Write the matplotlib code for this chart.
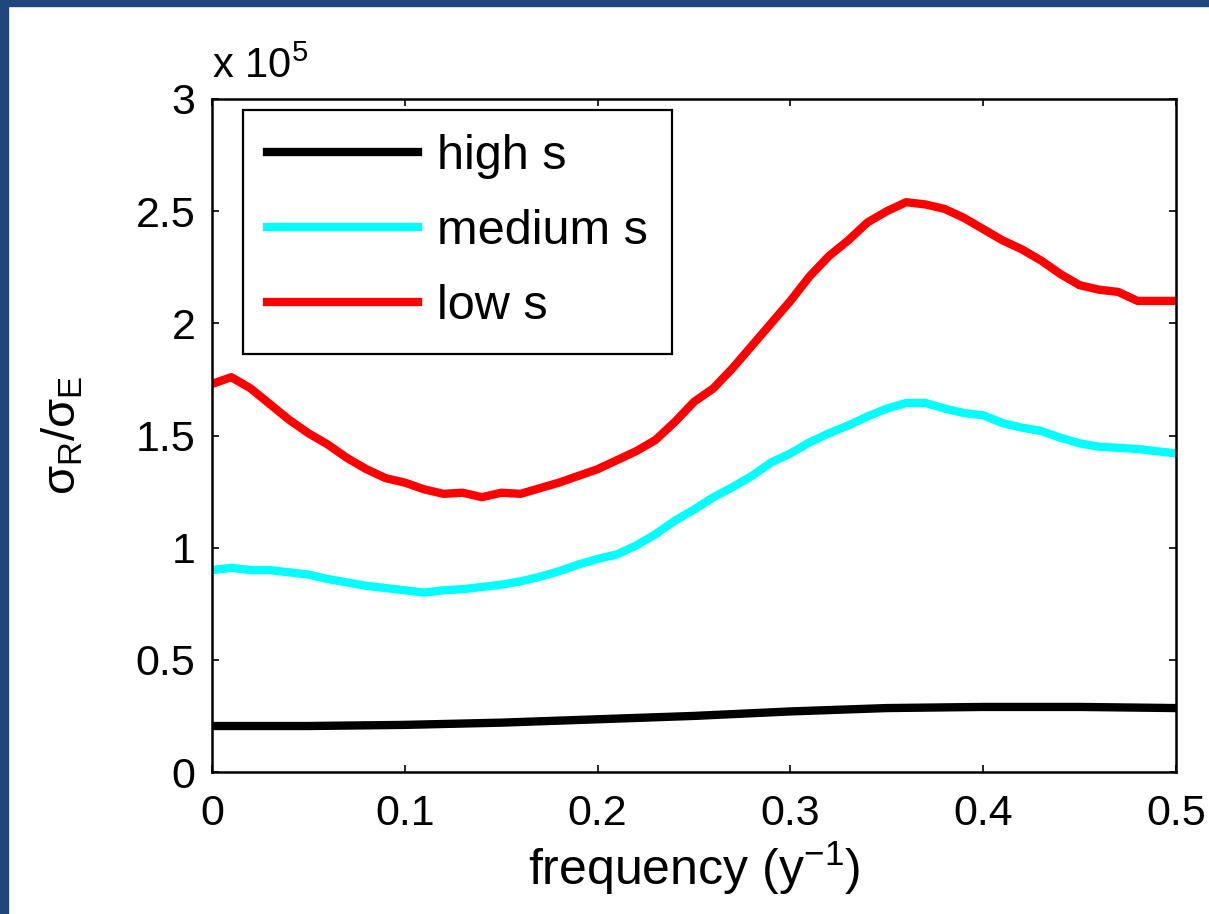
import numpy as np
import matplotlib
matplotlib.use("Agg")
from matplotlib import pyplot as plt
from matplotlib.patches import Rectangle

# frequency grid (1/y) and read-off values (x 10^5)
freq = [0.00, 0.01, 0.02, 0.03, 0.04, 0.05, 0.06, 0.07, 0.08, 0.09,
        0.10, 0.11, 0.12, 0.13, 0.14, 0.15, 0.16, 0.17, 0.18, 0.19,
        0.20, 0.21, 0.22, 0.23, 0.24, 0.25, 0.26, 0.27, 0.28, 0.29,
        0.30, 0.31, 0.32, 0.33, 0.34, 0.35, 0.36, 0.37, 0.38, 0.39,
        0.40, 0.41, 0.42, 0.43, 0.44, 0.45, 0.46, 0.47, 0.48, 0.49, 0.50]
low_s = [1.73, 1.76, 1.71, 1.64, 1.57, 1.51, 1.46, 1.40, 1.35, 1.31,
         1.29, 1.26, 1.24, 1.245, 1.225, 1.245, 1.24, 1.265, 1.29, 1.32,
         1.35, 1.39, 1.43, 1.48, 1.56, 1.65, 1.71, 1.80, 1.90, 2.00,
         2.10, 2.21, 2.30, 2.37, 2.45, 2.50, 2.54, 2.53, 2.51, 2.47,
         2.42, 2.37, 2.33, 2.28, 2.22, 2.17, 2.15, 2.14, 2.10, 2.10, 2.10]
medium_s = [0.90, 0.91, 0.90, 0.90, 0.89, 0.88, 0.86, 0.845, 0.83, 0.82,
            0.81, 0.80, 0.81, 0.815, 0.825, 0.835, 0.85, 0.87, 0.895, 0.925,
            0.95, 0.97, 1.01, 1.06, 1.12, 1.17, 1.225, 1.27, 1.32, 1.38,
            1.42, 1.47, 1.51, 1.545, 1.585, 1.62, 1.645, 1.645, 1.62, 1.60,
            1.59, 1.555, 1.535, 1.52, 1.49, 1.465, 1.45, 1.445, 1.44, 1.43, 1.42]
freq_high = [0.00, 0.05, 0.10, 0.15, 0.20, 0.25, 0.30, 0.35, 0.40, 0.45, 0.50]
high_s = [0.205, 0.205, 0.21, 0.22, 0.235, 0.25, 0.27, 0.285, 0.29, 0.29, 0.285]

xticks = [0, 0.1, 0.2, 0.3, 0.4, 0.5]
xticklabels = ["0", "0.1", "0.2", "0.3", "0.4", "0.5"]
yticks = [0, 0.5, 1, 1.5, 2, 2.5, 3]
yticklabels = ["0", "0.5", "1", "1.5", "2", "2.5", "3"]

plt.rcParams['font.family'] = ['Liberation Sans', 'DejaVu Sans']
plt.rcParams['mathtext.fontset'] = 'custom'
plt.rcParams['mathtext.rm'] = 'Liberation Sans'
plt.rcParams['mathtext.it'] = 'Liberation Sans'

fig = plt.figure(figsize=(12.09, 9.14), dpi=100)
ax = fig.add_axes([212/1209, 1 - 772/914, (1176-212)/1209, (772-99)/914])

ax.plot(freq_high, high_s, color='black', lw=6, label='high s')
ax.plot(freq, medium_s, color='#00ffff', lw=6, label='medium s')
ax.plot(freq, low_s, color='#ff0000', lw=6, label='low s')

ax.set_xlim(0, 0.5)
ax.set_ylim(0, 3)
ax.set_xticks(xticks)
ax.set_xticklabels(xticklabels)
ax.set_yticks(yticks)
ax.set_yticklabels(yticklabels)
ax.tick_params(direction='in', length=5, width=1.2, top=True, right=True, labelsize=31)
ax.tick_params(axis='x', pad=16)
ax.tick_params(axis='y', pad=12)
for sp in ax.spines.values():
    sp.set_linewidth(1.8)

ax.set_xlabel(r'frequency (y$^{-1}$)', fontsize=36, labelpad=4)
ax.set_ylabel(r'$\sigma_R/\sigma_E$', fontsize=34, labelpad=36)
ax.text(0.0, 1.031, r'x 10$^5$', transform=ax.transAxes, fontsize=30, ha='left', va='baseline')

leg = ax.legend(loc='upper left', bbox_to_anchor=(0.032, 0.984), fontsize=35,
                handlelength=3.1, handletextpad=0.4, labelspacing=0.62,
                borderpad=0.5, borderaxespad=0, fancybox=False, framealpha=1,
                edgecolor='black')
leg.get_frame().set_linewidth(1.6)

# slide border strips
fig.patches.append(Rectangle((0, 0), 8/1209, 1, transform=fig.transFigure, color='#1f477c'))
fig.patches.append(Rectangle((0, 1 - 6/914), 1, 6/914, transform=fig.transFigure, color='#1f477c'))

fig.savefig('out.png', dpi=100)
